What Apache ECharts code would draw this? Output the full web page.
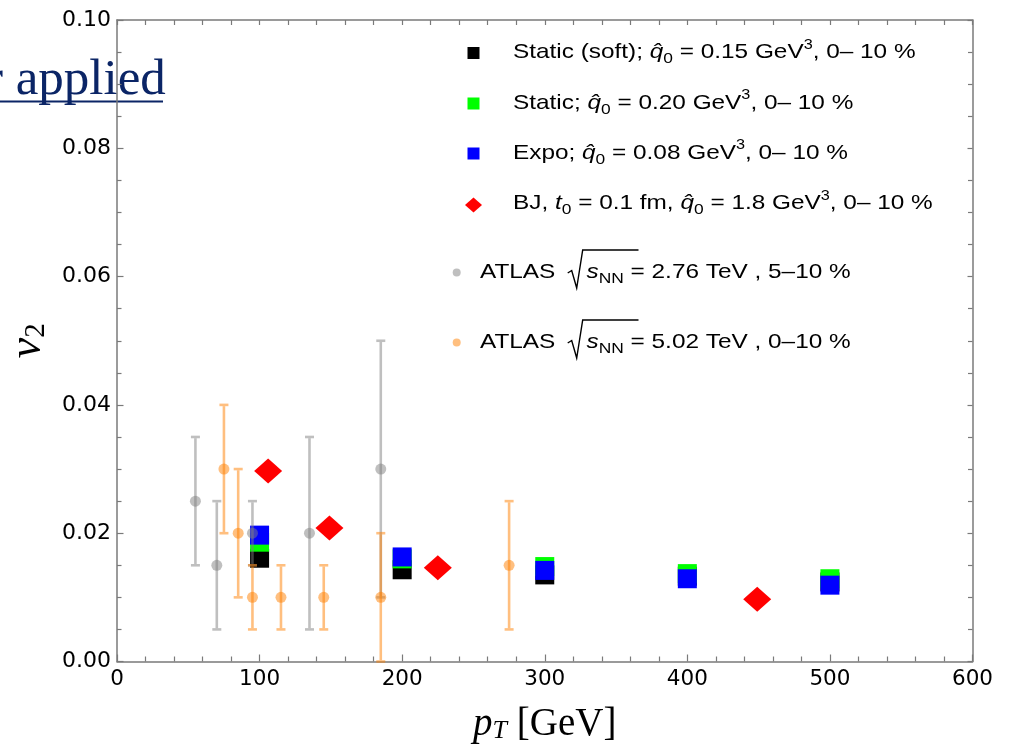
<!DOCTYPE html>
<html>
<head>
<meta charset="utf-8">
<script src="https://cdn.jsdelivr.net/npm/echarts@6/dist/echarts.min.js"></script>
<style>
  html, body { margin: 0; padding: 0; background: #ffffff; }
  #chart { width: 1020px; height: 752px; }
</style>
</head>
<body>
<div id="chart"></div>
<script>
// ---- model curves: v2 versus pT at fixed pT points ----
const modelPt = [100, 200, 300, 400, 500];
const staticSoftV2 = [0.0161, 0.0143, 0.0135, 0.0133, 0.0124];
const staticV2 = [0.0186, 0.0160, 0.0148, 0.0137, 0.0129];
const expoV2 = [0.0197, 0.0163, 0.0142, 0.0129, 0.0119];

// Bjorken expansion
const bjPt = [106, 149, 225, 449];
const bjV2 = [0.0297, 0.0208, 0.0146, 0.0097];

// ATLAS sqrt(sNN) = 2.76 TeV, 5-10 %
const atlas276Pt = [55, 70, 95, 135, 185];
const atlas276V2 = [0.025, 0.015, 0.020, 0.020, 0.030];
const atlas276Err = [0.010, 0.010, 0.005, 0.015, 0.020];

// ATLAS sqrt(sNN) = 5.02 TeV, 0-10 %
const atlas502Pt = [75, 85, 95, 115, 145, 185, 275];
const atlas502V2 = [0.030, 0.020, 0.010, 0.010, 0.010, 0.010, 0.015];
const atlas502Err = [0.010, 0.010, 0.005, 0.005, 0.005, 0.010, 0.010];

// axis tick labels
const xTicks = [0, 100, 200, 300, 400, 500, 600];
const yTicks = ['0.00', '0.02', '0.04', '0.06', '0.08', '0.10'];

const GRAY = 'rgba(128,128,128,0.5)';
const ORANGE = 'rgba(255,128,0,0.5)';
const FRAME = '#7a7a7a';
const SANS = '"Liberation Sans", Arial, sans-serif';
const SERIF = '"Liberation Serif", "Times New Roman", serif';
const TICKFONT = '"DejaVu Sans", sans-serif';
const STRETCH = 1.16;

function pairs(xs, ys) { return xs.map((x, i) => [x, ys[i]]); }
function bars(xs, ys, es) { return xs.map((x, i) => [x, ys[i] - es[i], ys[i] + es[i]]); }

function errorBarSeries(name, data, color) {
  return {
    type: 'custom',
    name: name,
    xAxisIndex: 0, yAxisIndex: 0,
    silent: true,
    z: 4,
    data: data,
    renderItem: function (params, api) {
      const x = api.value(0);
      const lo = api.coord([x, api.value(1)]);
      const hi = api.coord([x, api.value(2)]);
      const cap = 4.5;
      const st = { stroke: color, lineWidth: 2.6 };
      return {
        type: 'group',
        children: [
          { type: 'line', shape: { x1: hi[0], y1: hi[1] + 1.3, x2: lo[0], y2: lo[1] - 1.3 }, style: st },
          { type: 'line', shape: { x1: hi[0] - cap, y1: hi[1], x2: hi[0] + cap, y2: hi[1] }, style: st },
          { type: 'line', shape: { x1: lo[0] - cap, y1: lo[1], x2: lo[0] + cap, y2: lo[1] }, style: st }
        ]
      };
    }
  };
}

function squareSeries(name, ys, color) {
  return {
    type: 'scatter', name: name, symbol: 'rect', symbolSize: 19,
    itemStyle: { color: color, opacity: 1 }, z: 2,
    data: pairs(modelPt, ys)
  };
}

function axisX(position, showLabels) {
  return {
    type: 'value', position: position, min: 0, max: 600, interval: 100,
    axisLine: { show: true, onZero: false, lineStyle: { color: FRAME, width: 1.5 } },
    axisTick: { show: true, inside: true, length: showLabels ? 7 : 5, lineStyle: { color: FRAME, width: 1.2 } },
    minorTick: { show: true, splitNumber: 5, length: 5, lineStyle: { color: FRAME, width: 1.2 } },
    splitLine: { show: false },
    axisLabel: {
      show: showLabels, margin: 7, color: '#000',
      fontFamily: TICKFONT, fontSize: 21.5,
      formatter: v => (xTicks.indexOf(v) >= 0 ? String(v) : '')
    }
  };
}

function axisY(position, showLabels) {
  return {
    type: 'value', position: position, min: 0, max: 0.1, interval: 0.02,
    axisLine: { show: true, onZero: false, lineStyle: { color: FRAME, width: 1.5 } },
    axisTick: { show: true, inside: true, length: showLabels ? 6.5 : 5, lineStyle: { color: FRAME, width: 1.2 } },
    minorTick: { show: true, splitNumber: 4, length: 4.5, lineStyle: { color: FRAME, width: 1.2 } },
    splitLine: { show: false },
    axisLabel: {
      show: showLabels, margin: 6, color: '#000',
      fontFamily: TICKFONT, fontSize: 22,
      formatter: v => yTicks[Math.round(v / 0.02)]
    }
  };
}

// rich styles shared by legend labels
const legendRich = {
  n: { fontFamily: SANS, fontSize: 21, lineHeight: 32, color: '#000' },
  q: { fontFamily: SANS, fontSize: 21, fontStyle: 'italic', lineHeight: 32, color: '#000' },
  sub: { fontFamily: SANS, fontSize: 15, color: '#000', padding: [13, 0, 0, 0] },
  sup: { fontFamily: SANS, fontSize: 14, color: '#000', padding: [0, 0, 15, 0] }
};

function legendText(x, y, text) {
  return {
    type: 'text', x: x, y: y, scaleX: STRETCH, silent: true,
    style: { text: text, rich: legendRich, verticalAlign: 'middle', align: 'left',
             fontFamily: SANS, fontSize: 21, fill: '#000' }
  };
}

const qhat = '{q|q\u0302}{sub|0}';
const legendItems = [
  { y: 53, icon: 'sq', color: '#000000',
    text: '{n|Static (soft); }' + qhat + '{n| = 0.15 GeV}{sup|3}{n|, 0\u2013 10 %}' },
  { y: 103.5, icon: 'sq', color: '#00ff00',
    text: '{n|Static; }' + qhat + '{n| = 0.20 GeV}{sup|3}{n|, 0\u2013 10 %}' },
  { y: 153.5, icon: 'sq', color: '#0000ff',
    text: '{n|Expo; }' + qhat + '{n| = 0.08 GeV}{sup|3}{n|, 0\u2013 10 %}' },
  { y: 204, icon: 'dm', color: '#ff0000',
    text: '{n|BJ, }{q|t}{sub|0}{n| = 0.1 fm, }' + qhat + '{n| = 1.8 GeV}{sup|3}{n|, 0\u2013 10 %}' }
];
const atlasItems = [
  { y: 272.5, color: GRAY, rest: '{n| = 2.76 TeV , 5\u201310 %}' },
  { y: 342.5, color: ORANGE, rest: '{n| = 5.02 TeV , 0\u201310 %}' }
];

const graphics = [];
legendItems.forEach(it => {
  if (it.icon === 'sq') {
    graphics.push({ type: 'rect', silent: true, shape: { x: 467.5, y: it.y - 6, width: 12, height: 12 },
                    style: { fill: it.color } });
  } else {
    graphics.push({ type: 'polygon', silent: true,
                    shape: { points: [[465, it.y + 1], [473.5, it.y - 6.5], [482, it.y + 1], [473.5, it.y + 8.5]] },
                    style: { fill: it.color } });
  }
  graphics.push(legendText(513, it.y - 0.5, it.text));
});
atlasItems.forEach(it => {
  graphics.push({ type: 'circle', silent: true, shape: { cx: 456.7, cy: it.y, r: 4 }, style: { fill: it.color } });
  graphics.push(legendText(480, it.y, '{n|ATLAS}'));
  graphics.push({
    type: 'polyline', silent: true,
    shape: { points: [[567.7, it.y + 0.5], [571.7, it.y - 2], [576.7, it.y + 15.5], [582.7, it.y - 22.5], [638.5, it.y - 22.5]] },
    style: { stroke: '#000', lineWidth: 1.4, fill: null }
  });
  graphics.push(legendText(586.5, it.y, '{q|s}{sub|NN}' + it.rest));
});

// partially visible hyperlink text at the upper left
graphics.push({
  type: 'text', x: -14, y: 81, silent: true, z: 0,
  style: { text: 'r applied', fontFamily: SERIF, fontSize: 51, fill: '#0b2566',
           verticalAlign: 'middle', align: 'left' }
});
graphics.push({
  type: 'rect', silent: true, z: 0,
  shape: { x: 0, y: 100.5, width: 163, height: 2 }, style: { fill: '#0b2566' }
});

const chart = echarts.init(document.getElementById('chart'), null, { renderer: 'canvas' });
chart.setOption({
  backgroundColor: '#ffffff',
  animation: false,
  grid: { left: 117, right: 47.5, top: 20, bottom: 90.5, containLabel: false, outerBoundsMode: 'none' },
  xAxis: [
    Object.assign(axisX('bottom', true), {
      name: '{p|p}{t|T}{g| [GeV]}', nameLocation: 'middle', nameGap: 40,
      nameTextStyle: {
        rich: {
          p: { fontFamily: SERIF, fontStyle: 'italic', fontSize: 39, color: '#000', lineHeight: 46 },
          t: { fontFamily: SERIF, fontStyle: 'italic', fontSize: 26, color: '#000', padding: [14, 0, 0, 0] },
          g: { fontFamily: SERIF, fontSize: 39, color: '#000', lineHeight: 46 }
        }
      }
    }),
    axisX('top', false)
  ],
  yAxis: [
    Object.assign(axisY('left', true), {
      name: '{v|v}{s|2}', nameLocation: 'middle', nameGap: 64, nameRotate: 90,
      nameTextStyle: {
        rich: {
          v: { fontFamily: SERIF, fontStyle: 'italic', fontSize: 46, color: '#000', lineHeight: 50 },
          s: { fontFamily: SERIF, fontSize: 29, color: '#000', padding: [16, 0, 0, 0] }
        }
      }
    }),
    axisY('right', false)
  ],
  series: [
    squareSeries('Static (soft)', staticSoftV2, '#000000'),
    squareSeries('Static', staticV2, '#00ff00'),
    squareSeries('Expo', expoV2, '#0000ff'),
    {
      type: 'scatter', name: 'BJ', symbol: 'diamond', symbolSize: [28, 25],
      itemStyle: { color: '#ff0000', opacity: 1 }, z: 3,
      data: pairs(bjPt, bjV2)
    },
    errorBarSeries('ATLAS 2.76 err', bars(atlas276Pt, atlas276V2, atlas276Err), GRAY),
    errorBarSeries('ATLAS 5.02 err', bars(atlas502Pt, atlas502V2, atlas502Err), ORANGE),
    {
      type: 'scatter', name: 'ATLAS 2.76', symbol: 'circle', symbolSize: 11, z: 5,
      itemStyle: { color: GRAY, opacity: 1 }, data: pairs(atlas276Pt, atlas276V2)
    },
    {
      type: 'scatter', name: 'ATLAS 5.02', symbol: 'circle', symbolSize: 11, z: 5,
      itemStyle: { color: ORANGE, opacity: 1 }, data: pairs(atlas502Pt, atlas502V2)
    }
  ],
  graphic: graphics
});
</script>
</body>
</html>
